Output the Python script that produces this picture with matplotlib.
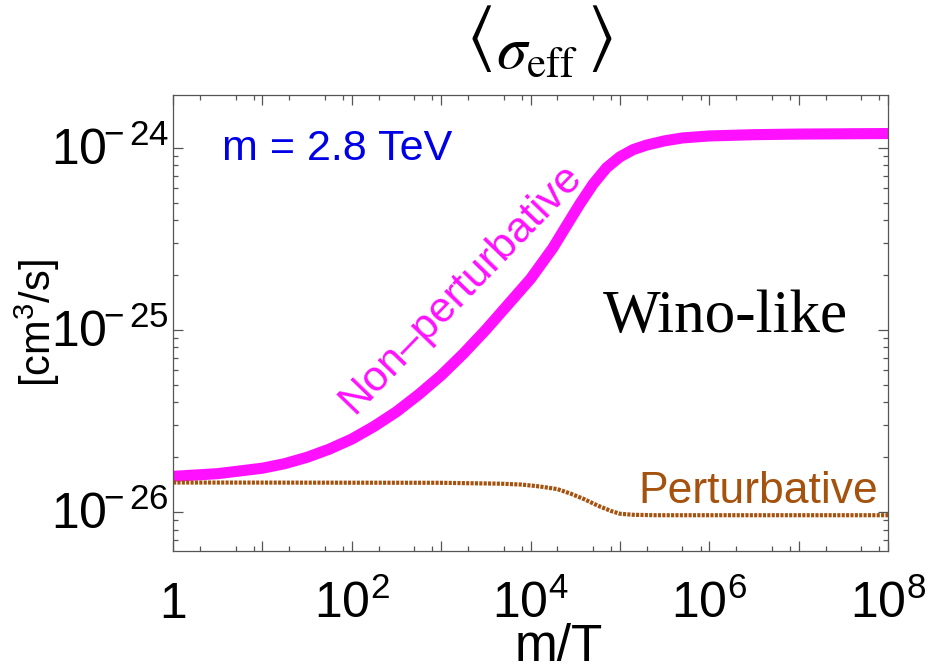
import numpy as np
import matplotlib
matplotlib.use("Agg")
import matplotlib.pyplot as plt
from matplotlib.ticker import FixedLocator, NullFormatter
from matplotlib.transforms import ScaledTranslation

# values
m_over_T_np = [1, 3.16, 10, 17.8, 31.6, 56.2, 100, 178, 316, 562, 1e3, 1.78e3,
               3.16e3, 5.62e3, 1e4, 1.78e4, 2.51e4, 3.55e4, 5.01e4, 7.08e4, 1e5,
               1.41e5, 2.0e5, 3.16e5, 5.01e5, 1e6, 3.16e6, 1e7, 1e8]
sigma_np = [1.567e-26, 1.622e-26, 1.738e-26, 1.841e-26, 1.995e-26, 2.213e-26,
            2.512e-26, 2.951e-26, 3.548e-26, 4.416e-26, 5.623e-26, 7.413e-26,
            1.0e-25, 1.380e-25, 1.905e-25, 2.818e-25, 3.715e-25, 4.898e-25,
            6.310e-25, 7.762e-25, 8.913e-25, 9.772e-25, 1.035e-24, 1.091e-24,
            1.132e-24, 1.161e-24, 1.180e-24, 1.189e-24, 1.197e-24]

m_over_T_p = [1, 1e3, 4.57e3, 7.94e3, 1.26e4, 2.0e4, 2.82e4, 3.98e4, 5.62e4,
              7.94e4, 1e5, 1.41e5, 2.51e5, 1e6, 1e8]
sigma_p = [1.45e-26, 1.445e-26, 1.429e-26, 1.413e-26, 1.380e-26, 1.334e-26,
           1.259e-26, 1.175e-26, 1.084e-26, 1.012e-26, 9.77e-27, 9.64e-27,
           9.59e-27, 9.59e-27, 9.59e-27]

x_major = [1e0, 1e1, 1e2, 1e3, 1e4, 1e5, 1e6, 1e7, 1e8]
x_labels = ["1", "", r"$10^{2}$", "", r"$10^{4}$", "", r"$10^{6}$", "", r"$10^{8}$"]
y_major = [1e-26, 1e-25, 1e-24]
y_labels = [r"$10^{\!\!-26}$", r"$10^{\!\!-25}$", r"$10^{\!\!-24}$"]

plt.rcParams["font.family"] = ["Liberation Sans", "DejaVu Sans"]
plt.rcParams["mathtext.fontset"] = "custom"
plt.rcParams["mathtext.rm"] = "Liberation Sans"
plt.rcParams["mathtext.it"] = "Liberation Sans:italic"
plt.rcParams["mathtext.default"] = "regular"

fig = plt.figure(figsize=(9.43, 6.64), dpi=100)
ax = fig.add_axes([0.1835, 0.1702, 0.7582, 0.6868])

magenta = "#ff10ff"
brown = "#a5520f"

ax.plot(m_over_T_np, sigma_np, color=magenta, lw=8, solid_capstyle="butt",
        solid_joinstyle="round")
ax.plot(m_over_T_p, sigma_p, color=brown, lw=3, ls=(0, (0.75, 0.3)),
        dash_capstyle="butt")

ax.set_xscale("log")
ax.set_yscale("log")
ax.set_xlim(1, 1e8)
ax.set_ylim(6.1e-27, 1.95e-24)

# ticks
ax.xaxis.set_major_locator(FixedLocator(x_major))
ax.xaxis.set_minor_locator(FixedLocator(
    [d * s for d in x_major[:-1] for s in (2, 5, 8)]))
ax.yaxis.set_major_locator(FixedLocator(y_major))
ax.yaxis.set_minor_locator(FixedLocator(
    [d * s for d in [1e-27, 1e-26, 1e-25, 1e-24] for s in range(2, 10)]))
ax.set_xticklabels(x_labels)
ax.set_yticklabels(y_labels)
ax.xaxis.set_minor_formatter(NullFormatter())
ax.yaxis.set_minor_formatter(NullFormatter())

ax.tick_params(which="both", direction="in", top=True, right=True,
               color="#555555", width=0.9)
ax.tick_params(which="major", length=7)
ax.tick_params(which="minor", length=3.5)
ax.tick_params(axis="x", labelsize=36, pad=48)
ax.tick_params(axis="y", labelsize=36, pad=3)
for sp in ax.spines.values():
    sp.set_color("#555555")
    sp.set_linewidth(0.9)

# align the labels on the baseline of the "10"
for t in ax.xaxis.get_major_ticks():
    t.label1.set_va("baseline")
for t in ax.yaxis.get_major_ticks():
    t.label1.set_va("baseline")
    t.label1.set_transform(t.label1.get_transform()
                           + ScaledTranslation(0, -12.5 / 72, fig.dpi_scale_trans))

ax.set_xlabel("m/T", fontsize=37)
ax.xaxis.set_label_coords(0.54, -0.158)
ax.xaxis.label.set_va("top")
ax.set_ylabel(r"[cm$^{3}$/s]", fontsize=30)
ax.yaxis.set_label_coords(-0.155, 0.5)

# annotations
ax.text(0.0685, 0.857, "m = 2.8 TeV", transform=ax.transAxes, color="#0000e6",
        fontsize=31, ha="left", va="baseline")
ax.text(0.601, 0.480, "Wino-like", transform=ax.transAxes, fontsize=44,
        family="Liberation Serif", ha="left", va="baseline")
ax.text(0.986, 0.105, "Perturbative", transform=ax.transAxes, color=brown,
        fontsize=32, ha="right", va="baseline")
ax.text(0.402, 0.575, "Non\u2013perturbative", transform=ax.transAxes,
        color=magenta, fontsize=31, rotation=46, rotation_mode="anchor",
        ha="center", va="center")

# title: <sigma_eff> with tall angle brackets
fig.text(0.5695, 0.899, r"$\mathit{\sigma}_{\mathrm{eff}}$", fontsize=44,
         math_fontfamily="stix", ha="center", va="baseline")
fig.text(0.508, 0.942, r"$\langle$", fontsize=52, math_fontfamily="stix",
         ha="center", va="center")
fig.text(0.636, 0.942, r"$\rangle$", fontsize=52, math_fontfamily="stix",
         ha="center", va="center")

fig.savefig("out.png", dpi=100)
